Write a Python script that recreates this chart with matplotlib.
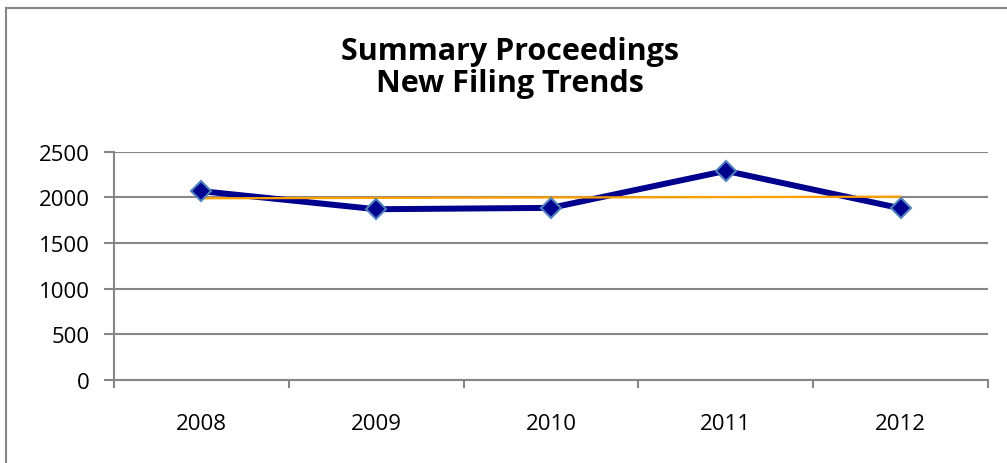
import numpy as np
import matplotlib
matplotlib.use("Agg")
import matplotlib.pyplot as plt
from matplotlib.lines import Line2D

plt.rcParams["font.family"] = ["Open Sans", "DejaVu Sans"]

years = ["2008", "2009", "2010", "2011", "2012"]
filings = [2068, 1870, 1885, 2290, 1880]
y_ticks = [0, 500, 1000, 1500, 2000, 2500]

W, H = 1007, 464
grey = "#868686"

fig = plt.figure(figsize=(W / 100, H / 100), dpi=100)
ax = fig.add_axes([114 / W, 1 - 381 / H, (988 - 114) / W, (381 - 152.7) / H])

x = np.arange(len(years))

# linear trendline, as excel draws it
slope, icpt = np.polyfit(x, filings, 1)
trend = slope * x + icpt

ax.plot(x, filings, color="#00008E", lw=4.3, zorder=3, solid_capstyle="round")
ax.plot(x, trend, color="#FFA000", lw=1.6, zorder=4)
ax.plot(x, filings, ls="none", marker="D", ms=10, mfc="#00008E",
        mec="#4F81BD", mew=1.5, zorder=5)

ax.set_ylim(0, 2500)
ax.set_xlim(-0.5, len(years) - 0.5)
ax.set_yticks(y_ticks)
ax.set_yticklabels([str(v) for v in y_ticks], fontsize=16)
ax.yaxis.grid(True, color=grey, lw=1.5)
ax.set_axisbelow(True)

ax.set_xticks(np.arange(-0.5, len(years), 1.0))
ax.set_xticklabels([])
ax.set_xticks(x, minor=True)
ax.set_xticklabels(years, minor=True, fontsize=16)
ax.tick_params(axis="x", which="major", length=5.5, width=1.5, color=grey)
ax.tick_params(axis="x", which="minor", length=0, pad=24)
ax.tick_params(axis="y", length=7.2, width=1.5, color=grey, pad=10)

for s in ["top", "right"]:
    ax.spines[s].set_visible(False)
for s in ["left", "bottom"]:
    ax.spines[s].set_color(grey)
    ax.spines[s].set_linewidth(1.5)

fig.text(510 / W, 1 - 68 / H, "Summary Proceedings\nNew Filing Trends",
         ha="center", va="center", fontsize=22, fontweight="bold",
         linespacing=1.1)

# chart area border (only left and top are inside the picture)
fig.add_artist(Line2D([6 / W, 6 / W], [0, 1 - 9 / H], color=grey, lw=1.5,
                      transform=fig.transFigure))
fig.add_artist(Line2D([6 / W, 1], [1 - 9 / H, 1 - 9 / H], color=grey, lw=1.5,
                      transform=fig.transFigure))

fig.savefig("out.png", dpi=100)
